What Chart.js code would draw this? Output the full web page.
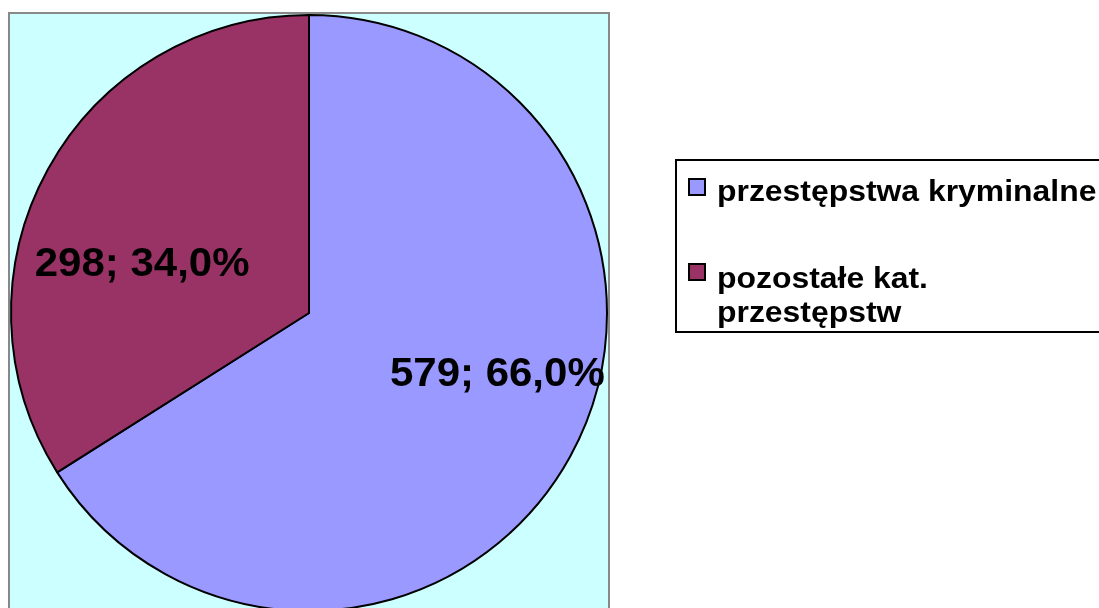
<!DOCTYPE html>
<html>
<head>
<meta charset="utf-8">
<script src="https://cdn.jsdelivr.net/npm/chart.js@4"></script>
<style>
html,body{margin:0;padding:0;overflow:hidden;background:#fff;}
#wrap{width:1099px;height:640px;position:relative;}
</style>
</head>
<body>
<div id="wrap"><canvas id="c" width="1099" height="640"></canvas></div>
<script>
const categories = ["przestępstwa kryminalne", "pozostałe kat. przestępstw"];
const legendLines = [["przestępstwa kryminalne"], ["pozostałe kat.", "przestępstw"]];
const values = [579, 298];
const percentLabels = ["66,0%", "34,0%"];
const colors = ["#9999FF", "#993366"];

const FONT = '"Liberation Sans", Arial, sans-serif';

function stretchedText(ctx, text, x, y, sx, align) {
  ctx.save();
  ctx.translate(x, y);
  ctx.scale(sx, 1);
  ctx.textAlign = align;
  ctx.fillText(text, 0, 0);
  ctx.restore();
}

const plotBg = {
  id: 'plotBg',
  beforeDraw(chart) {
    const {ctx, chartArea: a} = chart;
    ctx.save();
    ctx.fillStyle = '#CCFFFF';
    ctx.fillRect(a.left, a.top, a.right - a.left, 700);
    ctx.strokeStyle = '#888888';
    ctx.lineWidth = 2;
    ctx.strokeRect(a.left - 1, a.top - 1, a.right - a.left + 2, 700);
    ctx.restore();
  }
};

const labelOffsets = [[0.632, 0.208], [-0.56, -0.161]];

const dataLabels = {
  id: 'dataLabels',
  afterDatasetsDraw(chart) {
    const {ctx} = chart;
    const meta = chart.getDatasetMeta(0);
    ctx.save();
    ctx.font = 'bold 40px ' + FONT;
    ctx.fillStyle = '#000';
    ctx.textBaseline = 'middle';
    meta.data.forEach((arc, i) => {
      const r = arc.outerRadius;
      const x = arc.x + r * labelOffsets[i][0];
      const y = arc.y + r * labelOffsets[i][1];
      stretchedText(ctx, values[i] + '; ' + percentLabels[i], x, y, 1.05, 'center');
    });
    ctx.restore();
  }
};

const customLegend = {
  id: 'customLegend',
  afterDraw(chart) {
    const {ctx} = chart;
    const boxX = 676, boxY = 160, boxH = 172;
    ctx.save();
    ctx.strokeStyle = '#000';
    ctx.lineWidth = 2;
    ctx.strokeRect(boxX, boxY, 500, boxH);
    ctx.font = 'bold 29px ' + FONT;
    ctx.textBaseline = 'middle';
    const itemY = [187, 272];
    const textY = [193, 280];
    const lineH = 34;
    legendLines.forEach((lines, i) => {
      const y = itemY[i];
      ctx.fillStyle = colors[i];
      ctx.fillRect(689, y - 8, 16, 16);
      ctx.lineWidth = 2;
      ctx.strokeStyle = '#000';
      ctx.strokeRect(689, y - 8, 16, 16);
      ctx.fillStyle = '#000';
      lines.forEach((t, j) => stretchedText(ctx, t, 717, textY[i] + j * lineH, 1.1, 'left'));
    });
    ctx.restore();
  }
};

new Chart(document.getElementById('c'), {
  type: 'pie',
  data: {
    labels: categories,
    datasets: [{
      data: values,
      backgroundColor: colors,
      borderColor: '#000',
      borderWidth: 2
    }]
  },
  options: {
    responsive: false,
    animation: false,
    layout: {padding: {left: 10, top: 14, right: 491, bottom: 28}},
    plugins: {legend: {display: false}, tooltip: {enabled: false}}
  },
  plugins: [plotBg, dataLabels, customLegend]
});
</script>
</body>
</html>
